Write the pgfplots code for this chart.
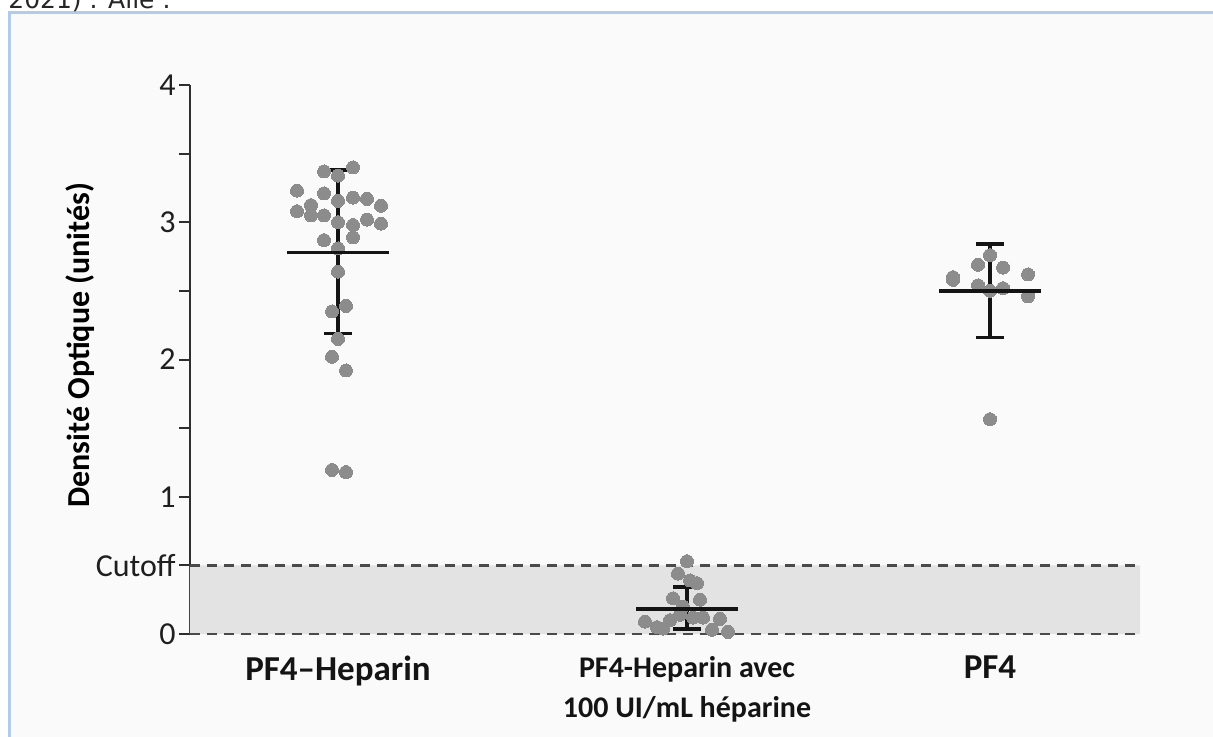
\documentclass[border=0pt]{standalone}
\usepackage{fontspec}
\setmainfont{Carlito}
\newfontfamily\dejavu{DejaVu Sans}
\usepackage{pgfplots}
\pgfplotsset{compat=1.18}

\definecolor{dotgray}{HTML}{8C8C8C}
\definecolor{bandgray}{HTML}{E3E3E3}
\definecolor{axisgray}{HTML}{2E2E2E}
\definecolor{dashgray}{HTML}{4A4A4A}
\definecolor{panel}{HTML}{FAFAFA}
\definecolor{framecol}{HTML}{B3CBEA}

\pgfplotsset{
  sample dots/.style={only marks, color=dotgray, mark=*, mark size=3.25pt,
    mark options={solid, fill=dotgray, draw=dotgray, line width=0pt}},
}

\begin{document}
\begin{tikzpicture}
% page and panel frame
\path[use as bounding box] (-95pt,-51pt) rectangle (511.5pt,317pt);
\fill[white] (-95pt,-51pt) rectangle (511.5pt,317pt);
\fill[panel] (-90pt,-60pt) rectangle (520pt,310.75pt);
\draw[framecol, line width=1.5pt] (-90pt,-60pt) -- (-90pt,310.75pt) -- (520pt,310.75pt);
\node[anchor=base west, inner sep=0pt, font=\dejavu\fontsize{12.5}{14}\selectfont, text=black!85]
  at (-91pt,313pt) {2021) . Aile .};

\begin{axis}[
  at={(0pt,0pt)}, anchor=south west,
  scale only axis, width=475pt, height=274.5pt,
  xmin=190, xmax=1140, ymin=0, ymax=4,
  clip=false,
  axis lines*=left,
  x axis line style={draw=none},
  y axis line style={line width=1pt, color=axisgray},
  tick align=outside,
  major tick length=5.5pt,
  ytick={0,0.5,1,1.5,2,2.5,3,3.5,4},
  yticklabels={0,Cutoff,1,,2,,3,,4},
  ytick style={line width=1pt, color=axisgray},
  yticklabel style={font=\fontsize{16}{18}\selectfont, text=black!88, inner sep=1.5pt},
  xtick={338,687,990},
  xtick style={draw=none},
  xticklabels={PF4–Heparin,
    {\fontsize{15}{17}\selectfont PF4-Heparin avec\\\fontsize{15}{17}\selectfont 100 UI/mL héparine},
    PF4},
  xticklabel style={font=\bfseries\fontsize{17.5}{20}\selectfont, align=center, text=black!92, yshift=-2pt},
  ylabel={Densité Optique (unités)},
  ylabel style={font=\bfseries\fontsize{16}{18}\selectfont, at={(axis description cs:-0.1158,0.526)}, anchor=center},
]

% region below the cutoff
\addplot[fill=bandgray, draw=none] coordinates {(190,0) (1140,0) (1140,0.5) (190,0.5)} \closedcycle;
\addplot[dashgray, line width=1.2pt, dash pattern=on 5pt off 3.5pt] coordinates {(190,0.5) (1140,0.5)};
\addplot[dashgray, line width=1.2pt, dash pattern=on 5pt off 3.5pt] coordinates {(190,0) (1140,0)};

% individual samples
\addplot[sample dots] coordinates {
  (324,3.37) (353,3.40) (338,3.34) (297,3.23) (324,3.21) (338,3.155) (353,3.18)
  (367,3.17) (381,3.12) (297,3.08) (311,3.125) (311,3.05) (324,3.05) (338,3.00)
  (353,2.98) (367,3.02) (381,2.99) (324,2.87) (353,2.89) (338,2.81) (338,2.64)
  (332,2.35) (346,2.39) (338,2.15) (332,2.02) (346,1.92) (332,1.195) (346,1.18)
};
\addplot[sample dots] coordinates {
  (687,0.53) (678,0.44) (690,0.39) (697,0.37) (673,0.26) (700,0.25) (683,0.20)
  (645,0.09) (657,0.05) (663,0.04) (670,0.10) (680,0.14) (693,0.12) (703,0.12)
  (720,0.11) (712,0.03) (728,0.015)
};
\addplot[sample dots] coordinates {
  (990,2.76) (978,2.69) (1003,2.67) (953,2.60) (953,2.58) (1028,2.62) (978,2.54)
  (1003,2.52) (1028,2.46) (990,2.50) (990,1.565)
};

% means with error bars
\addplot[only marks, color=black!92, mark=-, mark size=25.5pt, mark options={solid, line width=1.9pt},
  error bars/.cd, y dir=both, y explicit,
  error bar style={line width=1.9pt, black!92},
  error mark options={line width=1.9pt, black!92, mark size=7pt, rotate=90}]
  coordinates {
  (338,2.78) += (0,0.60) -= (0,0.59)
  (687,0.18) += (0,0.16) -= (0,0.145)
  (990,2.50) += (0,0.34) -= (0,0.34)
};
\end{axis}
\end{tikzpicture}
\end{document}
